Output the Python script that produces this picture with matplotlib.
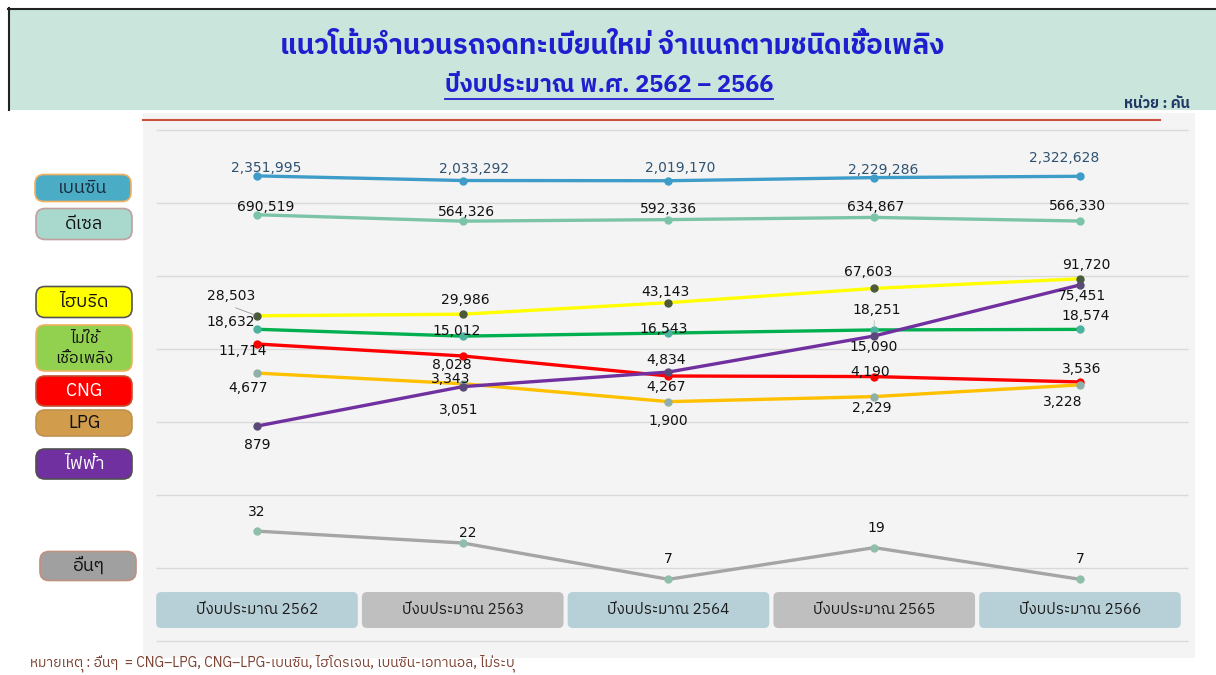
import matplotlib
matplotlib.use('Agg')
import matplotlib.pyplot as plt
import matplotlib.transforms as mtransforms
from matplotlib import font_manager
from matplotlib.lines import Line2D
from matplotlib.patches import FancyBboxPatch, Rectangle

# ---- data ----
years = ['ปีงบประมาณ 2562', 'ปีงบประมาณ 2563', 'ปีงบประมาณ 2564',
         'ปีงบประมาณ 2565', 'ปีงบประมาณ 2566']
benzin = [2351995, 2033292, 2019170, 2229286, 2322628]
diesel = [690519, 564326, 592336, 634867, 566330]
hybrid = [28503, 29986, 43143, 67603, 91720]
nonfuel = [18632, 15012, 16543, 18251, 18574]
cng = [11714, 8028, 4267, 4190, 3536]
lpg = [4677, 3343, 1900, 2229, 3228]
ev = [879, 3051, 4834, 15090, 75451]
other = [32, 22, 7, 19, 7]

title = 'แนวโน้มจำนวนรถจดทะเบียนใหม่ จำแนกตามชนิดเชื้อเพลิง'
subtitle = 'ปีงบประมาณ พ.ศ. 2562 – 2566'
unit = 'หน่วย : คัน'
note = 'หมายเหตุ : อื่นๆ  = CNG–LPG, CNG–LPG-เบนซิน, ไฮโดรเจน, เบนซิน-เอทานอล, ไม่ระบุ'


def find_thai_font():
    # pick an installed family that has Thai glyphs
    try:
        from fontTools.ttLib import TTFont
    except ImportError:
        return []
    found = []
    for f in font_manager.fontManager.ttflist:
        try:
            tt = TTFont(f.fname, fontNumber=0, lazy=True)
            cmap = tt.getBestCmap()
        except Exception:
            continue
        if cmap and ord('ก') in cmap and ord('ิ') in cmap:
            if f.name not in found:
                found.append(f.name)
    found.sort(key=lambda n: (0 if 'Thai' in n else 1, 0 if 'Sans' in n else 1, n))
    return found


thai_fonts = find_thai_font()
THAI = thai_fonts[:1] + ['DejaVu Sans']
plt.rcParams['font.family'] = ['DejaVu Sans']

W, H = 1216, 675
fig = plt.figure(figsize=(W / 100, H / 100), dpi=100)

# canvas axes in pixel units for decorations
cv = fig.add_axes([0, 0, 1, 1], zorder=0)
cv.set_xlim(0, W)
cv.set_ylim(H, 0)
cv.axis('off')

cv.add_patch(Rectangle((8, 8), W - 8, 102, facecolor='#c9e5dc', edgecolor='none'))
cv.plot([8, W], [8.5, 8.5], color='#222222', lw=1.5)
cv.plot([8.5, 8.5], [8, 110], color='#222222', lw=1.5)

cv.text(612, 47, title, family=THAI, fontsize=20, fontweight='bold',
        color='#1f1fd0', ha='center', va='center')
st = cv.text(609, 86, subtitle, family=THAI, fontsize=17, fontweight='bold',
             color='#1f1fd0', ha='center', va='center')
cv.text(1190, 104, unit, family=THAI, fontsize=10.5, fontweight='bold',
        color='#1f3864', ha='right', va='center')

# legend boxes: label, fill, edge, text colour, center y, height, center x
legend_items = [
    ('เบนซิน', '#4bacc6', '#f0b060', '#1a2a3a', 188, 27, 83),
    ('ดีเซล', '#a9d9cc', '#c0a0a0', '#111111', 224, 31, 84),
    ('ไฮบริด', '#ffff00', '#555555', '#111111', 302, 31, 84),
    ('ไม่ใช้\nเชื้อเพลิง', '#92d050', '#f0b060', '#111111', 348, 46, 84),
    ('CNG', '#ff0000', '#c05030', '#ffffff', 391, 30, 84),
    ('LPG', '#d19c4c', '#c09050', '#111111', 423, 26, 84),
    ('ไฟฟ้า', '#7030a0', '#505050', '#ffffff', 464, 30, 84),
    ('อื่นๆ', '#a0a0a0', '#c09080', '#111111', 566, 29, 88),
]
for lab, fc, ec, tc, cy, hh, cx in legend_items:
    cv.add_patch(FancyBboxPatch((cx - 48, cy - hh / 2), 96, hh,
                                boxstyle='round,pad=0,rounding_size=9',
                                facecolor=fc, edgecolor=ec, lw=1.2))
    fs = 11.5 if '\n' in lab else 13
    cv.text(cx, cy, lab, family=THAI, fontsize=fs, color=tc,
            ha='center', va='center', linespacing=1.35)

# main plot area (log scale)
ax = fig.add_axes([143 / W, 1 - 658 / H, (1195 - 143) / W, (658 - 113) / H], zorder=1)
ax.set_facecolor('#f4f4f4')
ax.set_yscale('log')
ax.set_ylim(10 ** -0.233, 10 ** 7.233)
ax.set_xlim(-0.554, 4.559)
for s in ax.spines.values():
    s.set_visible(False)
ax.set_xticks([])
ax.set_yticks([])
ax.minorticks_off()
ax.hlines([10 ** k for k in range(8)], -0.49, 4.525, colors='#d9d9d9', lw=1, zorder=1)

x = list(range(len(years)))

# series: values, line colour, marker colour, label colour, label offsets (px), zorder
series = [
    (benzin, '#3e9cc8', '#3e9cc8', '#2f5270',
     [(9, -8), (11, -12), (12, -13), (9, -8), (-16, -18)], 3),
    (diesel, '#7cc4a8', '#7cc4a8', '#111111',
     [(9, -8), (4, -9), (0, -11), (1, -10), (-2, -15)], 3),
    (hybrid, '#ffff00', '#4a5a3a', '#111111',
     [(-26, -20), (3, -14), (-3, -11), (-6, -16), (6, -14)], 3),
    (nonfuel, '#00b050', '#4bb3a0', '#111111',
     [(-26, -7), (-6, -5), (-5, -4), (2, -20), (6, -13)], 3),
    (cng, '#ff0000', '#ff0000', '#111111',
     [(-14, 7), (-11, 9), (-2, 11), (-4, -5), (2, -13)], 3),
    (lpg, '#ffc000', '#8fb0a8', '#111111',
     [(-9, 15), (-12, -5), (0, 19), (-2, 11), (-17, 17)], 3),
    (ev, '#7030a0', '#5a4a7a', '#111111',
     [(0, 19), (-4, 23), (-2, -12), (-1, 11), (2, 11)], 4),
    (other, '#a5a5a5', '#8fbfaa', '#111111',
     [(0, -19), (5, -10), (0, -20), (2, -20), (0, -20)], 3),
]
for vals, lc, mc, tc, offs, z in series:
    ax.plot(x, vals, color=lc, lw=2.4, marker='o', ms=5, mfc=mc, mec=mc,
            zorder=z, solid_capstyle='round')
    for xi, v, (dx, dy) in zip(x, vals, offs):
        ax.annotate(f'{v:,}', (xi, v), xytext=(dx * 0.72, -dy * 0.72),
                    textcoords='offset points', ha='center', va='center',
                    fontsize=10, color=tc, zorder=6)

# leader lines
ax.annotate('', (0, hybrid[0]), xytext=(-24 * 0.72, 9 * 0.72), textcoords='offset points',
            arrowprops=dict(arrowstyle='-', color='#999999', lw=0.6))
ax.annotate('', (3, nonfuel[3]), xytext=(0, 12 * 0.72), textcoords='offset points',
            arrowprops=dict(arrowstyle='-', color='#bbbbbb', lw=0.6))

# category boxes along the bottom
blend = mtransforms.blended_transform_factory(ax.transData, ax.transAxes)
box_colors = ['#b7cfd6', '#bfbfbf']
for i, lab in enumerate(years):
    ax.add_patch(FancyBboxPatch((i - 0.49, 0.055), 0.98, 0.066,
                                boxstyle='round,pad=0,rounding_size=0.025',
                                mutation_aspect=205.75 / 545,
                                transform=blend, facecolor=box_colors[i % 2],
                                edgecolor='none', zorder=5, clip_on=False))
    ax.text(i, 0.088, lab, transform=blend, family=THAI, fontsize=11,
            color='#1a1a1a', ha='center', va='center', zorder=6)

# red rule under the header and the footnote, drawn above the plot area
fig.add_artist(Line2D([143 / W, 1160 / W], [1 - 120 / H, 1 - 120 / H],
                      color='#c9503c', lw=1.5, transform=fig.transFigure, zorder=5))
fig.text(30 / W, 1 - 663 / H, note, family=THAI, fontsize=10, color='#7b4030',
         ha='left', va='center', zorder=5)

# underline the subtitle
fig.canvas.draw()
bb = st.get_window_extent().transformed(cv.transData.inverted())
cv.plot([bb.x0, bb.x1], [bb.y0 + 1, bb.y0 + 1], color='#1f1fd0', lw=1.3)

fig.savefig('out.png', dpi=100)
